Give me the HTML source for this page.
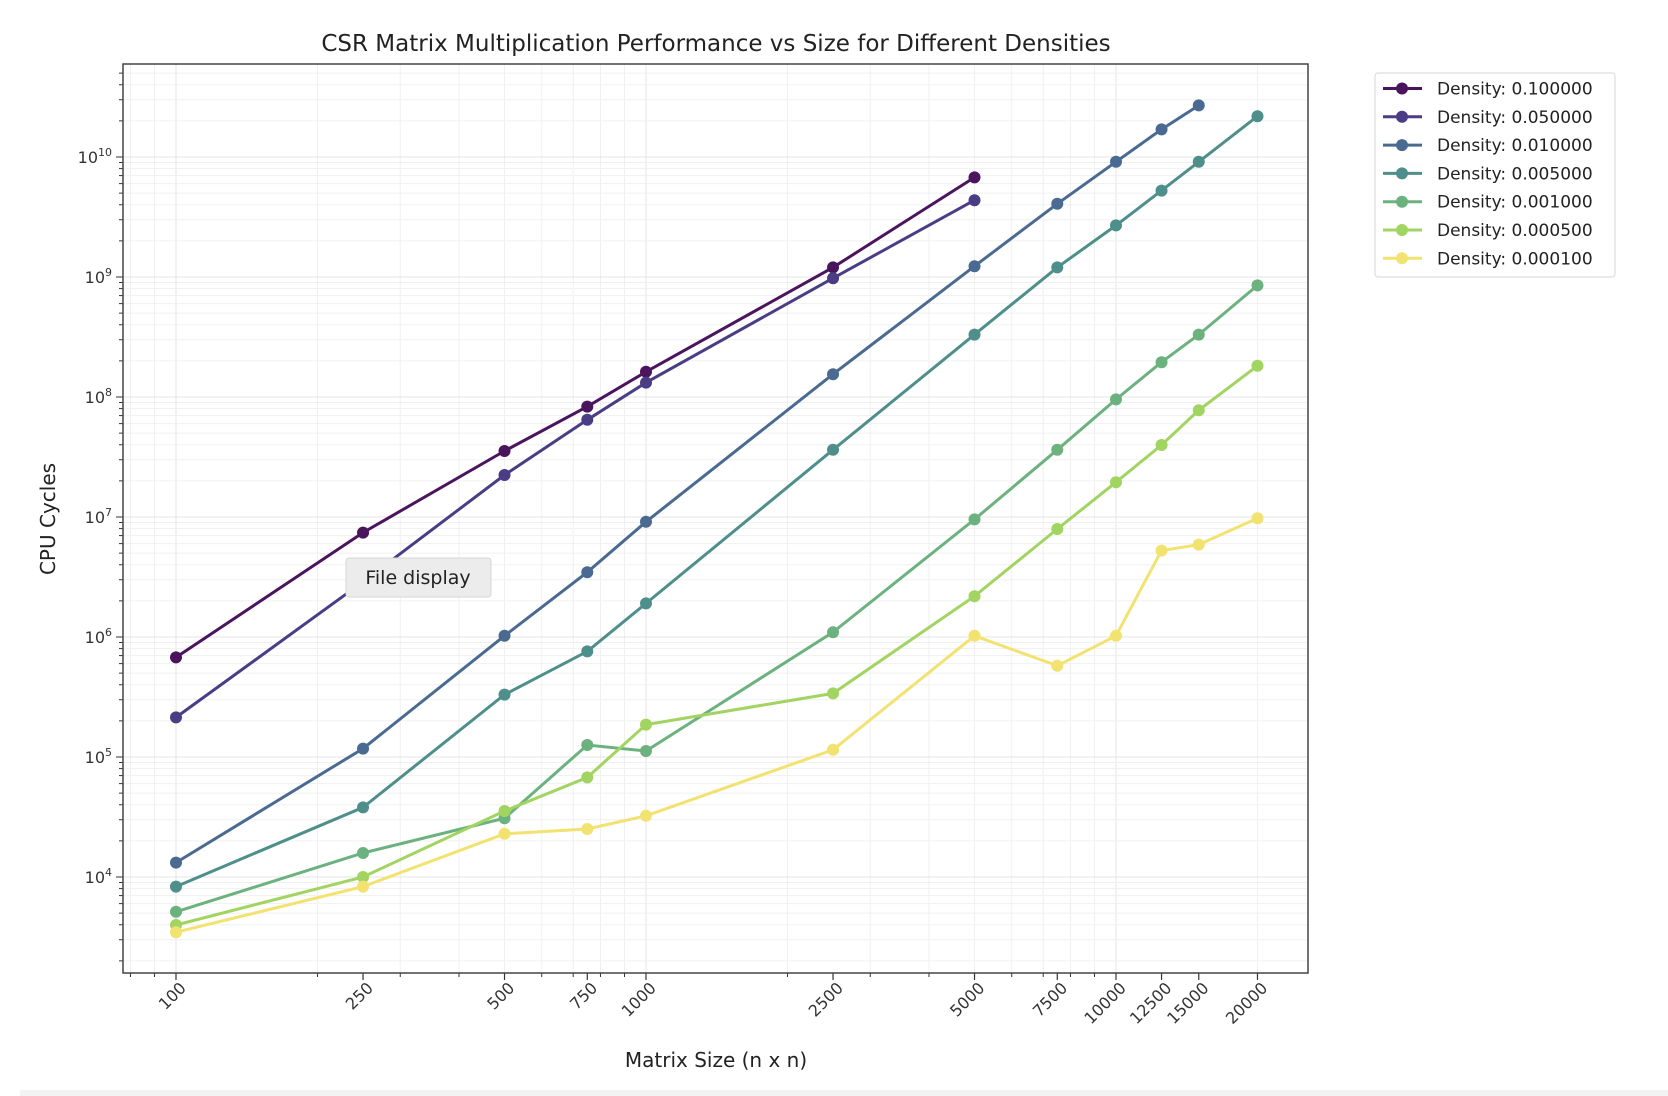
<!DOCTYPE html>
<html><head><meta charset="utf-8"><style>
body{margin:0;background:#fff;}
svg{display:block;font-family:"DejaVu Sans","Liberation Sans",sans-serif;}
</style></head><body>
<svg id="s" width="1668" height="1096" xmlns="http://www.w3.org/2000/svg"></svg>
<script>
const s=document.getElementById('s');const NS='http://www.w3.org/2000/svg';
function el(t,a,txt){const e=document.createElementNS(NS,t);for(const k in a)e.setAttribute(k,a[k]);if(txt!=null)e.textContent=txt;s.appendChild(e);return e;}
const L=123,R=1308,T=64,B=973;
const X=v=>176+(Math.log10(v)-2)*470;
const Y=l=>877-(l-4)*120;
for(let d=1;d<=4;d++)for(let m=1;m<=9;m++){const v=m*Math.pow(10,d);const x=X(v);if(x<L||x>R)continue;
 el('line',{x1:x,x2:x,y1:T,y2:B,stroke:m==1?'#e4e4e4':'#f0f0f0','stroke-width':1});
 el('line',{x1:x,x2:x,y1:B,y2:B+(m==1?0:4),stroke:'#333','stroke-width':1});}
for(let d=3;d<=10;d++)for(let m=1;m<=9;m++){const y=Y(d+Math.log10(m));if(y<T||y>B)continue;
 el('line',{x1:L,x2:R,y1:y,y2:y,stroke:m==1?'#e4e4e4':'#f0f0f0','stroke-width':1});
 el('line',{x1:L-(m==1?7:4),x2:L,y1:y,y2:y,stroke:'#333','stroke-width':1});}
const xt=[100,250,500,750,1000,2500,5000,7500,10000,12500,15000,20000];
xt.forEach(v=>{const x=X(v);el('line',{x1:x,x2:x,y1:B,y2:B+7,stroke:'#333','stroke-width':1.2});
 el('text',{x:x+11,y:B+16,'font-size':16,fill:'#333','text-anchor':'end',transform:`rotate(-45 ${x+11} ${B+16})`},v);});
for(let d=4;d<=10;d++){const y=Y(d);const t=el('text',{x:112,y:y+6,'font-size':16,fill:'#333','text-anchor':'end'});
 t.innerHTML=`10<tspan font-size="11" dy="-7">${d}</tspan>`;}
el('rect',{x:L,y:T,width:R-L,height:B-T,fill:'none',stroke:'#444','stroke-width':1.5});
const xs=[100,250,500,750,1000,2500,5000,7500,10000,12500,15000,20000];
const data=[
['#4b155e','0.100000',[5.83,6.87,7.55,7.92,8.21,9.08,9.83]],
['#4b3d85','0.050000',[5.33,6.46,7.35,7.81,8.12,8.99,9.64]],
['#4a6a91','0.010000',[4.12,5.07,6.01,6.54,6.96,8.19,9.09,9.61,9.96,10.23,10.43]],
['#4e8f8b','0.005000',[3.92,4.58,5.52,5.88,6.28,7.56,8.52,9.08,9.43,9.72,9.96,10.34]],
['#6bb27e','0.001000',[3.71,4.20,4.49,5.10,5.05,6.04,6.98,7.56,7.98,8.29,8.52,8.93]],
['#a2d461','0.000500',[3.60,4.0,4.55,4.83,5.27,5.53,6.34,6.90,7.29,7.60,7.89,8.26]],
['#f2e270','0.000100',[3.54,3.92,4.36,4.40,4.51,5.06,6.01,5.76,6.01,6.72,6.77,6.99]]];
data.forEach(([c,n,v])=>{const g=el('g',{});
 const p=v.map((l,i)=>`${X(xs[i]).toFixed(1)},${Y(l).toFixed(1)}`).join(' ');
 const pl=document.createElementNS(NS,'polyline');pl.setAttribute('points',p);pl.setAttribute('fill','none');pl.setAttribute('stroke',c);pl.setAttribute('stroke-width',3);g.appendChild(pl);
 v.forEach((l,i)=>{const ci=document.createElementNS(NS,'circle');ci.setAttribute('cx',X(xs[i]));ci.setAttribute('cy',Y(l));ci.setAttribute('r',6);ci.setAttribute('fill',c);g.appendChild(ci);});});
el('text',{x:716,y:51,'font-size':23,fill:'#222','text-anchor':'middle'},'CSR Matrix Multiplication Performance vs Size for Different Densities');
el('text',{x:716,y:1067,'font-size':20,fill:'#222','text-anchor':'middle'},'Matrix Size (n x n)');
el('text',{x:55,y:519,'font-size':20,fill:'#222','text-anchor':'middle',transform:'rotate(-90 55 519)'},'CPU Cycles');
el('rect',{x:1375,y:73,width:240,height:204,rx:3,fill:'#fff',stroke:'#ddd','stroke-width':1.2});
data.forEach(([c,n],i)=>{const y=88.5+i*28.3;
 el('line',{x1:1383,x2:1422,y1:y,y2:y,stroke:c,'stroke-width':3});
 el('circle',{cx:1402,cy:y,r:6,fill:c});
 el('text',{x:1437,y:y+6,'font-size':17,fill:'#222'},'Density: '+n);});
el('rect',{x:346,y:558,width:145,height:39,rx:3,fill:'#ececec',stroke:'#d6d6d6'});
el('text',{x:418,y:584,'font-size':19,fill:'#222','text-anchor':'middle'},'File display');
el('rect',{x:20,y:1090,width:1648,height:6,fill:'#f3f3f3'});
</script>
</body></html>
